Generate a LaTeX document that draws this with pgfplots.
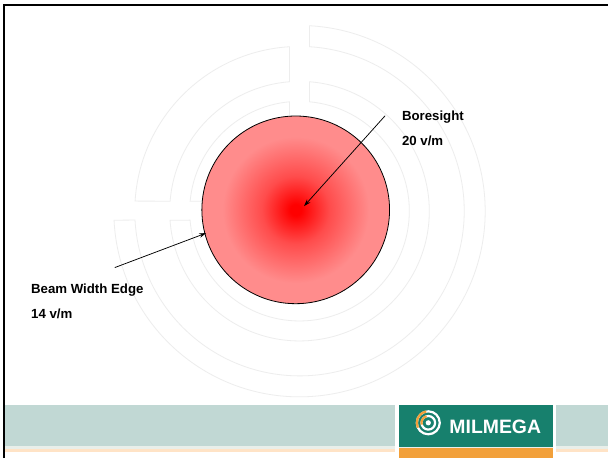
\documentclass[border=0pt]{standalone}
\usepackage{pgfplots}
\pgfplotsset{compat=1.18}
\usepackage{fontspec}
\setmainfont{Liberation Sans}
\usetikzlibrary{arrows.meta}
\definecolor{beampink}{HTML}{FF8C8C}
\definecolor{beammid}{HTML}{FF4C4C}
\definecolor{wm}{HTML}{EDEDED}
\definecolor{bandc}{HTML}{C1D8D4}
\definecolor{bandlight}{HTML}{E9EFEA}
\definecolor{peach}{HTML}{FFE3C6}
\definecolor{logogreen}{HTML}{17806D}
\definecolor{logoorange}{HTML}{F2A03A}
\pgfdeclareradialshading{beam}{\pgfpointorigin}{color(0bp)=(red); color(1.5bp)=(red); color(9bp)=(beammid); color(19.5bp)=(beampink); color(50bp)=(beampink)}
\pgfdeclareplotmark{beamdisc}{%
  \pgfpathcircle{\pgfpointorigin}{\pgfplotmarksize}%
  \pgfshadepath{beam}{0}%
  \pgfusepathqstroke}
\begin{document}
\begin{tikzpicture}
\begin{axis}[scale only axis, width=609bp, height=459bp,
  xmin=0, xmax=609, ymin=0, ymax=459, y dir=reverse,
  hide axis, clip=false, set layers]
% background
\fill[white] (axis cs:0,0) rectangle (axis cs:609,459);
% watermark rings
\begin{scope}[shift={(axis cs:300,211.5)}, draw=wm, line width=0.8bp]
  \draw (182.8:186bp) arc[start angle=182.8, end angle=446.9, radius=186bp]
     -- (446.5:165bp) arc[start angle=446.5, end angle=183.1, radius=165bp] -- cycle;
  \draw (184.0:130bp) arc[start angle=184.0, end angle=445.6, radius=130bp]
     -- (444.8:110bp) arc[start angle=444.8, end angle=184.7, radius=110bp] -- cycle;
  \draw (176.5:165bp) arc[start angle=176.5, end angle=93.5, radius=165bp]
     -- (94.4:130bp) arc[start angle=94.4, end angle=175.6, radius=130bp] -- cycle;
  \draw (174.8:110bp) arc[start angle=174.8, end angle=95.2, radius=110bp]
     -- (97.2:80bp) arc[start angle=97.2, end angle=172.8, radius=80bp] -- cycle;
\end{scope}
% beam disc
\addplot[only marks, mark=beamdisc, mark size=94bp,
  mark options={draw=black, line width=0.8bp}] coordinates {(296.2,210.2)};
% arrows
\addplot[on layer=axis foreground, black, line width=0.75bp, -{Stealth[length=7bp,width=4.5bp]}]
  coordinates {(385.7,116) (304.5,206.5)};
\addplot[on layer=axis foreground, black, line width=0.75bp, -{Stealth[length=7bp,width=4.5bp]}]
  coordinates {(115,268) (206.5,233.5)};
% labels
\begin{scope}[every node/.style={anchor=base west, inner sep=0pt,
  font=\fontsize{13.3}{15}\selectfont\bfseries}]
\node at (axis cs:402.5,121) {Boresight};
\node at (axis cs:402.5,146) {20 v/m};
\node at (axis cs:31,294) {Beam Width Edge};
\node at (axis cs:31,318.7) {14 v/m};
\end{scope}
% bottom band
\fill[bandc] (axis cs:5,406) rectangle (axis cs:609,447);
\fill[bandlight] (axis cs:5,447) rectangle (axis cs:609,449.5);
\fill[peach] (axis cs:5,449.5) rectangle (axis cs:609,453);
\fill[white] (axis cs:396,406) rectangle (axis cs:400,453);
\fill[white] (axis cs:554,406) rectangle (axis cs:557,453);
% logo
\fill[logogreen] (axis cs:400,406) rectangle (axis cs:554,448);
\fill[logoorange] (axis cs:400,449) rectangle (axis cs:554,459);
\begin{scope}[shift={(axis cs:429,423.5)}]
  \draw[white, line width=2.2bp] (0,0) circle[radius=11.5bp];
  \draw[white, line width=2.2bp] (0,0) circle[radius=6.8bp];
  \fill[white] (0,0) circle[radius=2.6bp];
  \draw[logoorange, line width=2.2bp] (100:11.5bp) arc[start angle=100, end angle=205, radius=11.5bp];
  \draw[logoorange, line width=2.2bp] (105:6.8bp) arc[start angle=105, end angle=195, radius=6.8bp];
\end{scope}
\node[anchor=base west, inner sep=0pt, text=white,
  font=\fontsize{19.5}{20}\selectfont\bfseries] at (axis cs:450,434) {MILMEGA};
% border
\draw[black, line width=2bp] (axis cs:3.7,459) -- (axis cs:3.7,5) -- (axis cs:609,5);
\end{axis}
\end{tikzpicture}
\end{document}
